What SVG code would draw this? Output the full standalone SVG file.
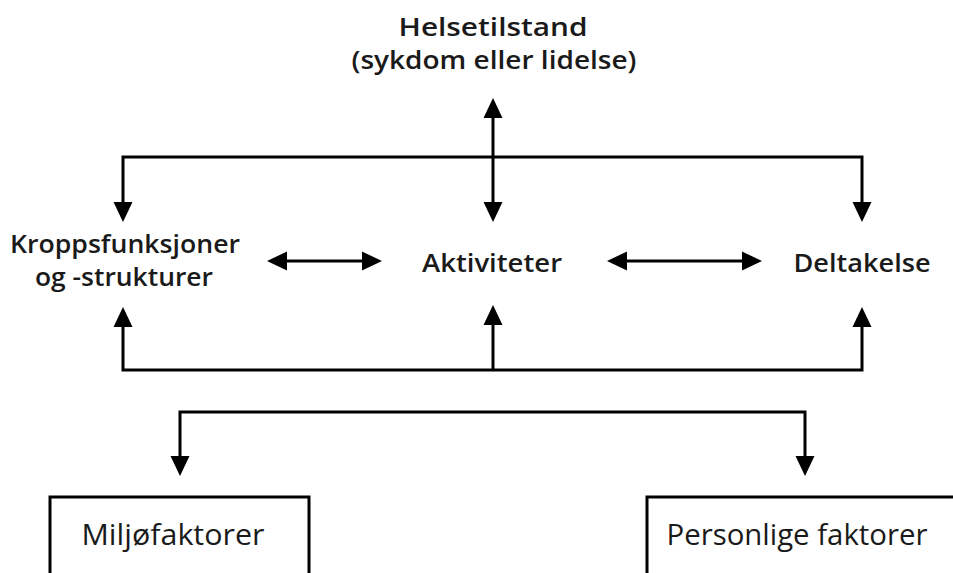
<svg xmlns="http://www.w3.org/2000/svg" width="953" height="573" viewBox="0 0 953 573">
<style>
.t{font-family:"Open Sans","Liberation Sans",sans-serif;font-size:25px;font-weight:600;fill:#1a1a1a;text-anchor:middle}
.b{font-family:"Open Sans","Liberation Sans",sans-serif;font-size:29px;font-weight:400;fill:#1a1a1a;text-anchor:middle}
.c{fill:none;stroke:#000;stroke-width:3}
.box{fill:#fff;stroke:#000;stroke-width:3}
</style>
<defs>
<marker id="ah" markerUnits="userSpaceOnUse" markerWidth="21" markerHeight="20" refX="0" refY="9.5" orient="auto-start-reverse" viewBox="0 0 21 19">
<path d="M0,0 L20,9.5 L0,19 z" fill="#000"/>
</marker>
</defs>
<rect width="953" height="573" fill="#fff"/>
<g id="connectors">
<path class="c" d="M123,202 V157 H862 V202" marker-start="url(#ah)" marker-end="url(#ah)"/>
<path class="c" d="M493,118 V202" marker-start="url(#ah)" marker-end="url(#ah)"/>
<path class="c" d="M287,261 H362" marker-start="url(#ah)" marker-end="url(#ah)"/>
<path class="c" d="M627,261 H742" marker-start="url(#ah)" marker-end="url(#ah)"/>
<path class="c" d="M123,327 V370 H862 V327" marker-start="url(#ah)" marker-end="url(#ah)"/>
<path class="c" d="M493,370 V325" marker-end="url(#ah)"/>
<path class="c" d="M180,456 V412 H805 V456" marker-start="url(#ah)" marker-end="url(#ah)"/>
</g>
<g id="helsetilstand">
<text class="t" x="493" y="36" textLength="189" lengthAdjust="spacingAndGlyphs">Helsetilstand</text>
<text class="t" x="494" y="69" textLength="285" lengthAdjust="spacingAndGlyphs">(sykdom eller lidelse)</text>
</g>
<g id="kroppsfunksjoner">
<text class="t" x="125" y="253" textLength="230" lengthAdjust="spacingAndGlyphs">Kroppsfunksjoner</text>
<text class="t" x="124" y="286" textLength="178" lengthAdjust="spacingAndGlyphs">og -strukturer</text>
</g>
<g id="aktiviteter">
<text class="t" x="492" y="272" textLength="140" lengthAdjust="spacingAndGlyphs">Aktiviteter</text>
</g>
<g id="deltakelse">
<text class="t" x="862" y="272" textLength="137" lengthAdjust="spacingAndGlyphs">Deltakelse</text>
</g>
<g id="miljofaktorer">
<rect class="box" x="50" y="497" width="259" height="90"/>
<text class="b" x="173" y="545" textLength="183" lengthAdjust="spacingAndGlyphs">Miljøfaktorer</text>
</g>
<g id="personlige">
<rect class="box" x="647" y="497" width="320" height="90"/>
<text class="b" x="797" y="545" textLength="261" lengthAdjust="spacingAndGlyphs">Personlige faktorer</text>
</g>
</svg>
